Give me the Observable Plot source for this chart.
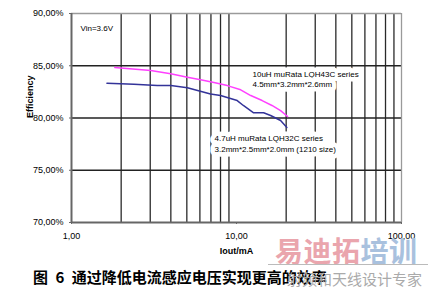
<!DOCTYPE html>
<html>
<head>
<meta charset="utf-8">
<script src="https://cdn.jsdelivr.net/npm/d3@7"></script>
<script src="https://cdn.jsdelivr.net/npm/@observablehq/plot@0.6"></script>
<style>
  body { margin: 0; background: #fff; }
  #wrap { position: relative; width: 428px; height: 289px; overflow: hidden; background: #fff; }
  #caption { position: absolute; left: 33px; top: 268px; font: bold 15px "Noto Sans CJK SC", sans-serif; line-height: 18px; word-spacing: 4px; white-space: pre; color: #000; }
  #wm1 { position: absolute; left: 275px; top: 234px; font: bold 28px "Noto Sans CJK SC", sans-serif; line-height: 32px; letter-spacing: 0.5px; white-space: pre; }
  #wmline { position: absolute; left: 268px; top: 264px; width: 160px; height: 1px; background: #bbb; }
  #wm2 { position: absolute; left: 287px; top: 270px; font: 15px "Noto Sans CJK SC", sans-serif; line-height: 18px; color: #aaa; white-space: pre; }
</style>
</head>
<body>
<div id="wrap">
  <div id="chart"></div>
  <div id="caption"></div>
  <div id="wm1"><span style="color:#eaa5ad">易迪拓</span><span style="color:#a9c1de">培训</span></div>
  <div id="wmline"></div>
  <div id="wm2">射频和天线设计专家</div>
</div>
<script>
// ---- data ----
const pinkX = [1.83, 3.02, 3.99, 5.04, 6.06, 7.3, 8.8, 10.6, 12.2, 14.3, 16.4, 18.5, 20.4];
const pinkY = [84.83, 84.55, 84.23, 83.9, 83.65, 83.4, 83.1, 82.7, 82.15, 81.67, 81.2, 80.7, 80.14];
const blueX = [1.64, 2.39, 3.31, 4.0, 5.04, 6.96, 8.0, 10.1, 11.0, 12.7, 14.6, 16.1, 18.5, 20.2];
const blueY = [83.33, 83.24, 83.1, 83.1, 82.9, 82.3, 82.15, 81.67, 81.2, 80.5, 80.5, 80.24, 79.76, 79.1];

const xTicks = [1, 10, 100];
const xTickLabels = ["1,00", "10,00", "100,00"];
const xMinor = [2, 3, 4, 5, 6, 7, 8, 9, 20, 30, 40, 50, 60, 70, 80, 90];
const yTicks = [70, 75, 80, 85, 90];
const yTickLabels = ["70,00%", "75,00%", "80,00%", "85,00%", "90,00%"];
const yInner = [75, 80, 85];

const xLabel = "Iout/mA";
const yLabel = "Efficiency";
const captionText = "图 6 通过降低电流感应电压实现更高的效率";

const noteVin = [{x: 1.134, y: 88.56, text: "Vin=3.6V"}];
const noteBoxes = [
  {x: 12.5, y: 84.13, text: "10uH muRata LQH43C series"},
  {x: 12.5, y: 83.18, text: "4.5mm*3.2mm*2.6mm"},
  {x: 7.36, y: 78.01, text: "4.7uH muRata LQH32C series"},
  {x: 7.36, y: 77.01, text: "3.2mm*2.5mm*2.0mm (1210 size)"}
];

const pink = pinkX.map((x, i) => ({x, y: pinkY[i]}));
const blue = blueX.map((x, i) => ({x, y: blueY[i]}));

document.getElementById("caption").textContent = captionText;

const chart = Plot.plot({
  width: 428,
  height: 262,
  marginLeft: 71,
  marginRight: 27,
  marginTop: 13,
  marginBottom: 40,
  style: {fontFamily: "'Liberation Sans', Arial, sans-serif", fontSize: "9px", background: "#fff", color: "#000"},
  x: {type: "log", domain: [1, 100]},
  y: {domain: [70, 90]},
  marks: [
    Plot.ruleX(xMinor, {stroke: "#2a2a2a", strokeWidth: 1.3}),
    Plot.ruleY(yInner, {stroke: "#222", strokeWidth: 1.3}),
    Plot.ruleY([90], {stroke: "#9a9a9a", strokeWidth: 1.3}),
    Plot.ruleX([100], {stroke: "#9a9a9a", strokeWidth: 1.3}),
    Plot.text(noteBoxes, {x: "x", y: "y", text: "text", textAnchor: "start", fontSize: 8, fill: "#000",
      stroke: "#fff", strokeWidth: 9, paintOrder: "stroke"}),
    Plot.text(noteVin, {x: "x", y: "y", text: "text", textAnchor: "start", fontSize: 8, fill: "#000"}),
    Plot.line(pink, {x: "x", y: "y", stroke: "#ff40ff", strokeWidth: 1.5}),
    Plot.line(blue, {x: "x", y: "y", stroke: "#333399", strokeWidth: 1.5}),
    Plot.ruleX([1], {stroke: "#666", strokeWidth: 2}),
    Plot.ruleY([70], {stroke: "#666", strokeWidth: 2}),
    Plot.axisX({ticks: xTicks, tickFormat: d => xTickLabels[xTicks.indexOf(d)], tickSize: 2, tickPadding: 8, stroke: "#666", label: null}),
    Plot.axisY({ticks: yTicks, tickFormat: d => yTickLabels[yTicks.indexOf(d)], tickSize: 2, tickPadding: 6, stroke: "#666", label: null}),
    Plot.text([xLabel], {frameAnchor: "bottom", dy: 31, fontWeight: "bold", fontSize: 9}),
    Plot.text([yLabel], {frameAnchor: "left", dx: -41, rotate: -90, fontWeight: "bold", fontSize: 9})
  ]
});
document.getElementById("chart").appendChild(chart);
</script>
</body>
</html>
